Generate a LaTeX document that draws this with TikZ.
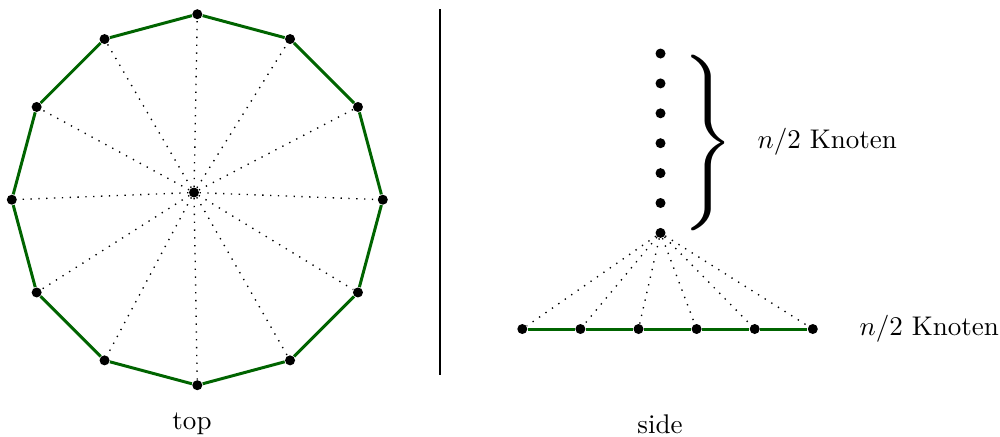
\documentclass[tikz,border=0pt]{standalone}
\usepackage{graphicx}
\usetikzlibrary{calc}
\definecolor{kgreen}{RGB}{0,100,0}
\begin{document}
\begin{tikzpicture}[x=0.37pt,y=-0.37pt,
  dot/.style={circle,fill=black,inner sep=0pt,minimum size=3.7pt},
  gedge/.style={draw=kgreen,line width=1.1pt},
  spoke/.style={dash pattern=on 0.5pt off 2.4pt,line width=0.5pt},
  lbl/.style={inner sep=0pt,font=\normalsize}]
\useasboundingbox (0,0) rectangle (1000,436);
% top view
\node[dot] (c) at (194,192.5) {};
\foreach \i in {0,...,11}
  \node[dot] (v\i) at ($(197.3,199.7)+(\i*30:185.5)$) {};
\foreach \i in {0,...,11} \draw[spoke] (c) -- (v\i);
\draw[gedge] (v0)--(v1) (v1)--(v2) (v2)--(v3) (v3)--(v4) (v4)--(v5) (v5)--(v6)
  (v6)--(v7) (v7)--(v8) (v8)--(v9) (v9)--(v10) (v10)--(v11) (v11)--(v0);
% separator
\coordinate (sepT) at (440,9);
\coordinate (sepB) at (440,375);
\draw[line width=1.1pt] (sepT) -- (sepB);
% side view
\foreach \k in {0,...,6}
  \node[dot] (s\k) at (660.5,{53.5+29.9*\k}) {};
\foreach \k in {0,...,5}
  \node[dot] (b\k) at ({522.3+58.1*\k},329) {};
\foreach \k in {0,...,5} \draw[spoke] (s6) -- (b\k);
\draw[gedge] (b0)--(b1) (b1)--(b2) (b2)--(b3) (b3)--(b4) (b4)--(b5);
\node[inner sep=0pt] (br) at (708,143) {\resizebox*{19pt}{65pt}{$\Bigg\}$}};
\node[lbl,anchor=west] (l1) at (757,142) {$n/2$ Knoten};
\node[lbl,anchor=west] (l2) at (859,329) {$n/2$ Knoten};
\node[lbl] (top) at (192,424) {top};
\node[lbl] (side) at (660,424) {side};
\end{tikzpicture}
\end{document}
